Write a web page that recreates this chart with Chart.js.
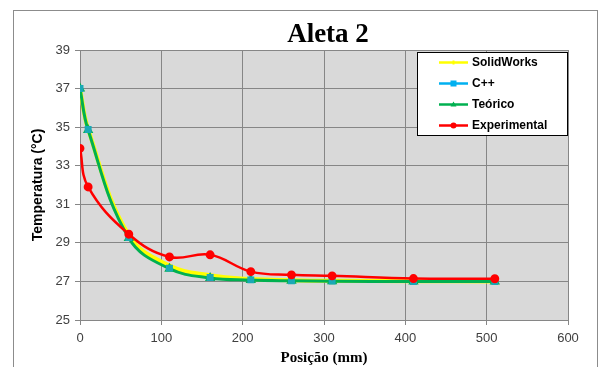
<!DOCTYPE html>
<html lang="pt">
<head>
    <meta charset="UTF-8">
    <title>Aleta 2</title>
    <script src="https://cdn.jsdelivr.net/npm/chart.js"></script>
    <style>
        body {
          margin: 0;
          background: #ffffff;
        }
        .box {
          width: 599px;
          height: 367px;
          position: relative;
        }
    </style>
</head>
<body>
    <div class="box">
        <canvas id="myChart" width="599" height="367"></canvas>
    </div>

    <script>
        // Posições ao longo da aleta (mm)
        const posicoes = [0, 10, 60, 110, 160, 210, 260, 310, 410, 510];

        // Temperaturas (°C)
        const solidWorks   = [37.0, 34.9, 29.4, 27.82, 27.32, 27.12, 27.06, 27.03, 27.01, 27.0];
        const cpp          = [37.0, 34.88, 29.27, 27.69, 27.2, 27.08, 27.04, 27.02, 27.0, 27.0];
        const teorico      = [37.0, 34.85, 29.25, 27.66, 27.18, 27.07, 27.03, 27.01, 27.0, 27.0];
        const experimental = [33.9, 31.9, 29.45, 28.27, 28.38, 27.51, 27.34, 27.29, 27.15, 27.14];

        const xTicks = [0, 100, 200, 300, 400, 500, 600];
        const yTicks = [25, 27, 29, 31, 33, 35, 37, 39];

        function pares(ys) {
            return posicoes.map((x, i) => ({ x: x, y: ys[i] }));
        }

        // fundo cinza da área do gráfico e moldura externa
        const moldura = {
            id: 'moldura',
            beforeDraw(chart) {
                const c = chart.ctx;
                const a = chart.chartArea;
                c.save();
                c.fillStyle = '#ffffff';
                c.fillRect(0, 0, chart.width, chart.height);
                c.strokeStyle = '#8c8c8c';
                c.lineWidth = 1;
                c.strokeRect(13.5, 10.5, 584, 370);
                c.fillStyle = '#d9d9d9';
                c.fillRect(a.left, a.top, a.right - a.left, a.bottom - a.top);
                c.restore();
            },
            afterDraw(chart) {
                const c = chart.ctx;
                c.save();
                c.fillStyle = '#000000';
                c.font = 'bold 27px "Liberation Serif", "Times New Roman", serif';
                c.textAlign = 'center';
                c.textBaseline = 'alphabetic';
                c.fillText('Aleta 2', 328, 42);
                c.restore();
            }
        };

        // legenda dentro da área do gráfico, como no Excel
        const legenda = {
            id: 'legenda',
            afterDatasetsDraw(chart) {
                const c = chart.ctx;
                const x0 = 417.5, y0 = 52.5, w = 150, h = 83;
                c.save();
                c.fillStyle = '#ffffff';
                c.fillRect(x0, y0, w, h);
                c.strokeStyle = '#000000';
                c.lineWidth = 1;
                c.strokeRect(x0, y0, w, h);
                c.font = 'bold 12px "Liberation Sans", Arial, sans-serif';
                c.textBaseline = 'middle';
                chart.data.datasets.forEach((ds, i) => {
                    const y = 62.5 + i * 21;
                    c.strokeStyle = ds.legendColor;
                    c.lineWidth = 2.5;
                    c.beginPath();
                    c.moveTo(439, y);
                    c.lineTo(468, y);
                    c.stroke();
                    c.fillStyle = ds.legendColor;
                    const mx = 453.5;
                    if (ds.pointStyle === 'rect') {
                        c.fillRect(mx - 3, y - 3, 6, 6);
                    } else if (ds.pointStyle === 'triangle') {
                        c.beginPath();
                        c.moveTo(mx, y - 3);
                        c.lineTo(mx + 3, y + 2);
                        c.lineTo(mx - 3, y + 2);
                        c.fill();
                    } else if (ds.pointStyle === 'circle') {
                        c.beginPath();
                        c.arc(mx, y, 3, 0, Math.PI * 2);
                        c.fill();
                    } else {
                        c.fillRect(mx - 1, y - 2, 2, 4);
                    }
                    c.fillStyle = '#000000';
                    c.fillText(ds.label, 472, y + 0.5);
                });
                c.restore();
            }
        };

        const ctx = document.getElementById('myChart').getContext('2d');
        const myChart = new Chart(ctx, {
            type: 'line',
            data: {
                datasets: [{
                    label: 'SolidWorks',
                    data: pares(solidWorks),
                    legendColor: '#ffff00',
                    borderColor: '#ffff00',
                    backgroundColor: '#ffff00',
                    borderWidth: 4,
                    pointStyle: 'line',
                    pointRadius: 0,
                    tension: 0.4,
                    order: 4
                }, {
                    label: 'C++',
                    data: pares(cpp),
                    legendColor: '#00b0f0',
                    borderColor: 'rgba(0, 176, 240, 0)',
                    backgroundColor: '#1aa9b6',
                    pointBackgroundColor: '#1aa9b6',
                    pointBorderColor: '#1aa9b6',
                    borderWidth: 2,
                    pointStyle: 'rect',
                    pointRadius: 3.5,
                    tension: 0.4,
                    order: 1
                }, {
                    label: 'Teórico',
                    data: pares(teorico),
                    legendColor: '#00b050',
                    borderColor: '#00b050',
                    backgroundColor: '#00b050',
                    borderWidth: 3,
                    pointStyle: 'triangle',
                    pointRadius: 3,
                    tension: 0.4,
                    order: 2
                }, {
                    label: 'Experimental',
                    data: pares(experimental),
                    legendColor: '#ff0000',
                    borderColor: '#ff0000',
                    backgroundColor: '#ff0000',
                    borderWidth: 2.5,
                    pointStyle: 'circle',
                    pointRadius: 3.2,
                    tension: 0.4,
                    order: 0
                }]
            },
            options: {
                responsive: false,
                animation: false,
                layout: {
                    padding: { left: 20, right: 31, top: 50, bottom: 0 }
                },
                plugins: {
                    legend: { display: false },
                    title: { display: false },
                    tooltip: { enabled: false }
                },
                scales: {
                    x: {
                        type: 'linear',
                        min: 0,
                        max: 600,
                        afterBuildTicks: axis => { axis.ticks = xTicks.map(v => ({ value: v })); },
                        afterFit: axis => { axis.height = 47; },
                        grid: {
                            color: '#868686',
                            tickLength: 5,
                            drawTicks: true
                        },
                        border: { color: '#868686' },
                        ticks: {
                            color: '#404040',
                            padding: 6,
                            maxRotation: 0,
                            font: { family: '"Liberation Sans", Arial, sans-serif', size: 13 }
                        },
                        title: {
                            display: true,
                            text: 'Posição (mm)',
                            color: '#000000',
                            padding: 0,
                            font: { family: '"Liberation Serif", "Times New Roman", serif', size: 15, weight: 'bold' }
                        }
                    },
                    y: {
                        min: 25,
                        max: 39,
                        afterBuildTicks: axis => { axis.ticks = yTicks.map(v => ({ value: v })); },
                        afterFit: axis => { axis.width = 60; },
                        grid: {
                            color: '#868686',
                            tickLength: 5
                        },
                        border: { color: '#868686' },
                        ticks: {
                            color: '#404040',
                            padding: 5,
                            font: { family: '"Liberation Sans", Arial, sans-serif', size: 13 }
                        },
                        title: {
                            display: true,
                            text: 'Temperatura (°C)',
                            color: '#000000',
                            padding: { top: 10, bottom: 0 },
                            font: { family: '"Liberation Sans", Arial, sans-serif', size: 14, weight: 'bold' }
                        }
                    }
                }
            },
            plugins: [moldura, legenda]
        });
    </script>
</body>
</html>
